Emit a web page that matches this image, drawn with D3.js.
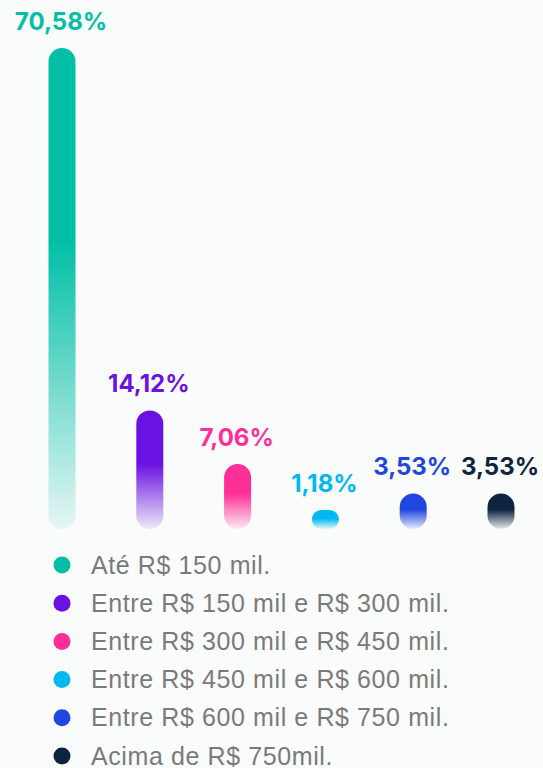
<!DOCTYPE html>
<html><head><meta charset="utf-8">
<script src="https://cdn.jsdelivr.net/npm/d3@7"></script>
<style>html,body{margin:0;padding:0;background:#fafbfb;}svg{display:block;}</style>
</head><body>
<svg id="c" width="543" height="768"></svg>
<script>
const categories = ["Até R$ 150 mil.","Entre R$ 150 mil e R$ 300 mil.","Entre R$ 300 mil e R$ 450 mil.","Entre R$ 450 mil e R$ 600 mil.","Entre R$ 600 mil e R$ 750 mil.","Acima de R$ 750mil."];
const values = [70.58, 14.12, 7.06, 1.18, 3.53, 3.53];
const labels = ["70,58%","14,12%","7,06%","1,18%","3,53%","3,53%"];
const colors = ["#00bfa6","#6a12e3","#ff2f97","#00b8f2","#2146e0","#0e2340"];

const svg = d3.select("#c");
const baseY = 529, topY = 48, barW = 27;
const x = d3.scalePoint().domain(d3.range(values.length)).range([62, 501]);
const h = d3.scalePow().exponent(0.87).domain([0, d3.max(values)]).range([0, baseY - topY]);
const minH = 19;
const bh = v => Math.max(minH, h(v));

const defs = svg.append("defs");
colors.forEach((c, i) => {
  const g = defs.append("linearGradient").attr("id", "g" + i)
    .attr("x1", 0).attr("y1", 0).attr("x2", 0).attr("y2", 1);
  g.append("stop").attr("offset", 0).attr("stop-color", c).attr("stop-opacity", 1);
  g.append("stop").attr("offset", i === 0 ? 0.4 : 0.45).attr("stop-color", c).attr("stop-opacity", 1);
  g.append("stop").attr("offset", 1).attr("stop-color", c).attr("stop-opacity", 0.08);
});

svg.selectAll("rect.bar").data(values).join("rect").attr("class", "bar")
  .attr("x", (d, i) => x(i) - barW / 2)
  .attr("y", d => baseY - bh(d))
  .attr("width", barW)
  .attr("height", d => bh(d))
  .attr("rx", d => Math.min(barW / 2, bh(d) / 2))
  .attr("ry", d => Math.min(barW / 2, bh(d) / 2))
  .attr("fill", (d, i) => `url(#g${i})`);

svg.selectAll("text.val").data(values).join("text").attr("class", "val")
  .attr("x", (d, i) => x(i) - 1)
  .attr("y", d => baseY - bh(d) - 18)
  .attr("text-anchor", "middle")
  .attr("font-family", "Inter, Roboto, sans-serif")
  .attr("font-weight", 700)
  .attr("font-size", 24)
  .attr("fill", (d, i) => colors[i])
  .text((d, i) => labels[i]);

const ly = d3.scalePoint().domain(d3.range(categories.length)).range([565, 756]);
const leg = svg.selectAll("g.leg").data(categories).join("g").attr("class", "leg")
  .attr("transform", (d, i) => `translate(0,${ly(i)})`);
leg.append("circle").attr("cx", 62).attr("cy", 0).attr("r", 8.5).attr("fill", (d, i) => colors[i]);
leg.append("text").attr("x", 91).attr("y", 8.5)
  .attr("font-family", "'Liberation Sans', Arial, sans-serif")
  .attr("font-size", 25).attr("fill", "#7a7a7a")
  .attr("letter-spacing", 0.6)
  .text(d => d);
</script>
</body></html>
